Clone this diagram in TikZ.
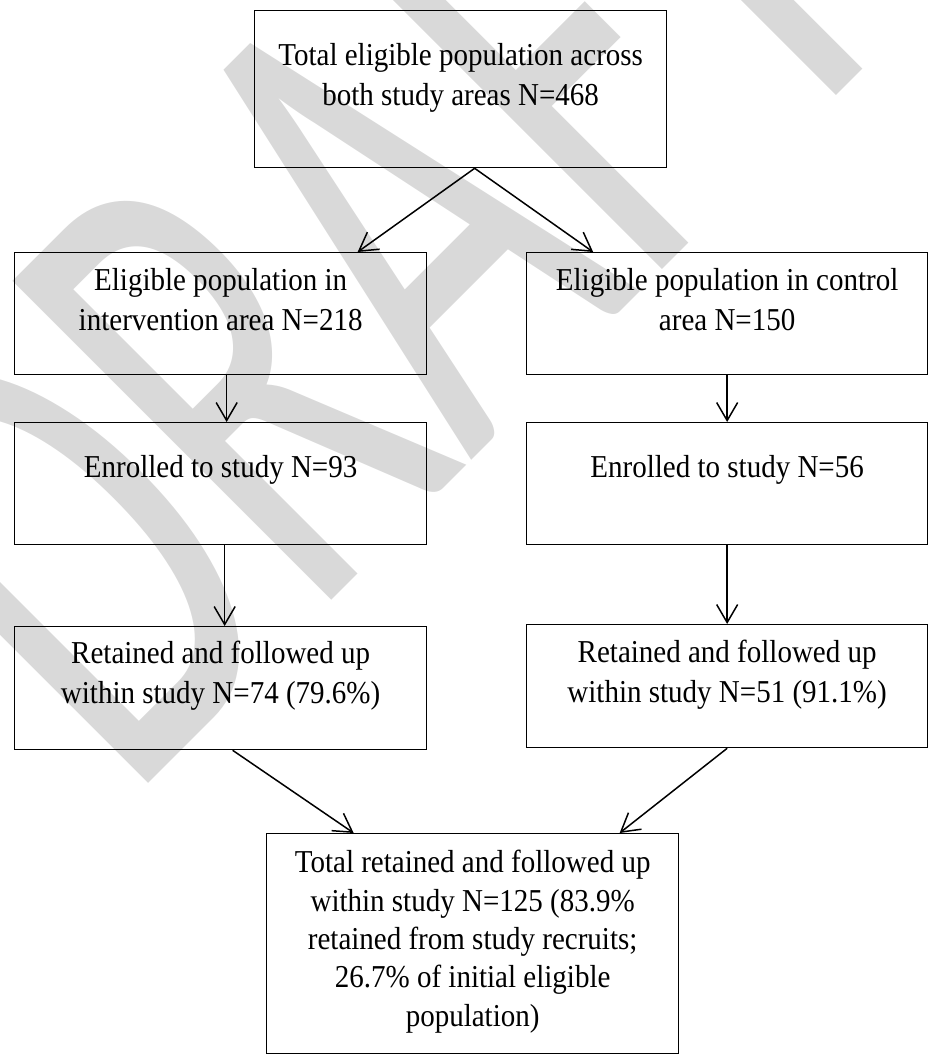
\documentclass[tikz,border=0pt]{standalone}
\usepackage{fontspec}
\setmainfont{Liberation Serif}[FakeStretch=0.91]
\newfontfamily\wmfont{Carlito}
\usetikzlibrary{arrows.meta}

\begin{document}
\begin{tikzpicture}[x=1bp, y=-1bp,
    box/.style={draw, line width=1.3bp, inner sep=0pt, anchor=north west, align=flush center,
      font=\fontsize{32}{39.5}\selectfont},
    arr/.style={line width=1.5bp, -{Straight Barb[length=18bp, width=21bp]}},
    ]
  \useasboundingbox (0,0) rectangle (928,1055);
  % watermark behind everything
  \node[anchor=base west, rotate=45, yscale=1.68, inner sep=0pt, text=black!15,
        font=\wmfont\fontsize{420}{420}\selectfont] (draft) at (128,804) {DRAFT};

  \node[box, text width=412bp, text height=55bp, text depth=102bp] (top) at (254,10)
    {Total eligible population across\\both study areas N=468};

  \node[box, text width=412bp, text height=38bp, text depth=84bp] (interv) at (14,252)
    {Eligible population in\\intervention area N=218};
  \node[box, text width=401bp, text height=38bp, text depth=84bp] (control) at (526,252)
    {Eligible population in control\\area N=150};

  \node[box, text width=412bp, text height=55bp, text depth=67bp] (enrolA) at (14,422)
    {Enrolled to study N=93};
  \node[box, text width=401bp, text height=55bp, text depth=67bp] (enrolB) at (526,422)
    {Enrolled to study N=56};

  \node[box, text width=412bp, text height=37bp, text depth=86bp] (retainA) at (14,626)
    {Retained and followed up\\within study N=74 (79.6\%)};
  \node[box, text width=401bp, text height=38bp, text depth=85bp] (retainB) at (526,624)
    {Retained and followed up\\within study N=51 (91.1\%)};

  \node[box, text width=412bp, text height=39bp, text depth=181bp,
        font=\fontsize{32}{38.5}\selectfont] (total) at (266,833)
    {Total retained and followed up\\within study N=125 (83.9\%\\retained from study recruits;\\26.7\% of initial eligible\\population)};

  % connectors
  \draw[arr] ([xshift=14bp]top.south) -- ([xshift=137bp]interv.north);
  \draw[arr] ([xshift=14bp]top.south) -- ([xshift=-134bp]control.north);
  \draw[arr] ([xshift=6bp]interv.south) -- ([xshift=6bp]enrolA.north);
  \draw[arr] (control.south) -- (enrolB.north);
  \draw[arr] ([xshift=4bp]enrolA.south) -- ([xshift=4bp]retainA.north);
  \draw[arr] (enrolB.south) -- (retainB.north);
  \draw[arr] ([xshift=12bp]retainA.south) -- ([xshift=-119bp]total.north);
  \draw[arr] (retainB.south) -- ([xshift=147bp]total.north);
\end{tikzpicture}
\end{document}
